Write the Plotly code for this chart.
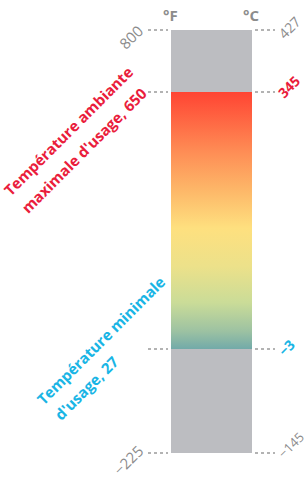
import plotly.graph_objects as go

# ---- data ----
f_ticks = [800, 650, 27, -225]            # Fahrenheit positions
f_labels = ["800", "", "", "\u2212225"]    # left labels (650/27 shown in callouts)
c_labels = ["427", "345", "\u22123", "\u2212145"]
c_colors = ["#8c8c8c", "#ea1d3c", "#19b5e5", "#8c8c8c"]
range_min, range_max = -225, 800
use_min, use_max = 27, 650
max_lines = ["Température ambiante", "maximale d'usage, 650"]
min_lines = ["Température minimale", "d'usage, 27"]

gradient = [
    [0.00, "#72aaa9"],
    [0.07, "#9dc2a2"],
    [0.18, "#cadc98"],
    [0.32, "#ece18a"],
    [0.47, "#fee07f"],
    [0.60, "#fdbc6b"],
    [0.76, "#fe8f56"],
    [1.00, "#ff4433"],
]

FONT = "Open Sans"
GRAY = "#8c8c8c"
RED = "#ea1d3c"
CYAN = "#19b5e5"

fig = go.Figure()

# gray full-range bar
fig.add_trace(go.Bar(
    x=[0.5], y=[range_max - range_min], base=[range_min], width=[1],
    marker=dict(color="#bcbdc1", line=dict(width=0)),
    hoverinfo="skip", showlegend=False,
))

# gradient usage band
fig.add_trace(go.Scatter(
    x=[0, 1, 1, 0, 0],
    y=[use_min, use_min, use_max, use_max, use_min],
    mode="lines", line=dict(width=0),
    fill="toself",
    fillgradient=dict(type="vertical", colorscale=gradient),
    hoverinfo="skip", showlegend=False,
))

shapes = []
annotations = []
right_yshift = [3, 5, 2, 8]
right_size = [14, 14, 14, 13]
for v, fl, cl, cc, ys, sz in zip(f_ticks, f_labels, c_labels, c_colors,
                                 right_yshift, right_size):
    shapes.append(dict(type="line", xref="x", yref="y", x0=-0.284, x1=-0.037,
                       y0=v, y1=v, line=dict(color="#9a9a9a", width=1.5, dash="dot")))
    shapes.append(dict(type="line", xref="x", yref="y", x0=1.037, x1=1.284,
                       y0=v, y1=v, line=dict(color="#9a9a9a", width=1.5, dash="dot")))
    if fl:
        annotations.append(dict(x=-0.284, y=v, xref="x", yref="y", text=fl,
                                showarrow=False, textangle=-45, xanchor="right",
                                yanchor="middle", xshift=2, yshift=-7,
                                font=dict(family=FONT, size=15, color=GRAY)))
    bold = cc != GRAY
    annotations.append(dict(x=1.284, y=v, xref="x", yref="y",
                            text=f"<b>{cl}</b>" if bold else cl,
                            showarrow=False, textangle=-45, xanchor="left",
                            yanchor="middle", xshift=-4, yshift=ys,
                            font=dict(family=FONT, size=sz, color=cc)))

# unit headers
annotations.append(dict(x=-0.01, y=1, xref="x", yref="paper", yanchor="top", yshift=-3,
                        text="<b>°F</b>", showarrow=False,
                        font=dict(family=FONT, size=15, color=GRAY)))
annotations.append(dict(x=0.99, y=1, xref="x", yref="paper", yanchor="top", yshift=-3,
                        text="<b>°C</b>", showarrow=False,
                        font=dict(family=FONT, size=15, color=GRAY)))

# callouts (one annotation per line, centred on each line)
callouts = [
    (max_lines[0], 68, 131, RED),
    (max_lines[1], 84, 150, RED),
    (min_lines[0], 101, 340, CYAN),
    (min_lines[1], 86, 388, CYAN),
]
for txt, cx, cy, col in callouts:
    annotations.append(dict(x=cx / 304, y=1 - cy / 480, xref="paper", yref="paper",
                            text=f"<b>{txt}</b>", showarrow=False, textangle=-45,
                            xanchor="center", yanchor="middle",
                            font=dict(family=FONT, size=15, color=col)))

px_per_f = 423 / (range_max - range_min)
fig.update_layout(
    width=304, height=480,
    margin=dict(l=0, r=0, t=0, b=0),
    paper_bgcolor="white", plot_bgcolor="white",
    xaxis=dict(visible=False, range=[-171 / 81, 1 + 52 / 81], fixedrange=True),
    yaxis=dict(visible=False,
               range=[range_min - 27 / px_per_f, range_max + 30 / px_per_f],
               fixedrange=True),
    shapes=shapes, annotations=annotations,
    showlegend=False,
)

fig.write_html("out.html", config={"displayModeBar": False},
               post_script="document.body.style.margin='0';")
